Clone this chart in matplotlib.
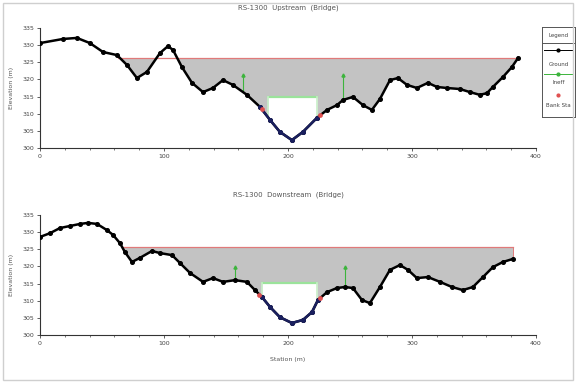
import numpy as np
import matplotlib
matplotlib.use("Agg")
import matplotlib.pyplot as plt
from matplotlib.patches import Rectangle

# upstream section (station m, elevation m)
up_sta = [0, 18.5, 29.8, 40.3, 50.8, 62.1, 70.2, 78.2, 86.3, 96.8, 103.2, 107.3, 114.5,
          122.6, 131.5, 139.5, 147.6, 155.6, 166.9, 177.4, 185.5, 193.5, 203.2, 212.1,
          223.4, 231.5, 239.5, 244.4, 252.4, 260.5, 267.7, 274.2, 282.3, 288.7, 296.0,
          304.0, 312.9, 320.2, 328.2, 338.7, 346.8, 354.8, 360.5, 365.3, 373.4, 380.6, 385.5]
up_elev = [330.6, 331.8, 332.1, 330.6, 328.0, 327.1, 324.2, 320.4, 322.2, 327.7, 329.7, 328.6,
           323.6, 319.0, 316.3, 317.5, 319.8, 318.4, 315.5, 312.0, 308.2, 304.7, 302.3, 304.7,
           308.8, 311.1, 312.5, 314.0, 314.9, 312.5, 311.1, 314.3, 319.8, 320.4, 318.4,
           317.5, 319.0, 317.8, 317.5, 317.2, 316.3, 315.5, 316.0, 317.8, 320.7, 323.6, 326.2]
up_level = 326.2
up_level_sta = [63, 385.5]
up_ineff_sta = [163.7, 244.4]
up_ineff_elev = [321.3, 321.3]
up_open_sta = [183.9, 223.4]
up_open_top = 314.9
up_bank_sta = [179.0, 226.0]

# downstream section
dn_sta = [0, 8.1, 16.1, 24.2, 32.3, 38.7, 46.0, 54.0, 58.9, 64.5, 68.5, 74.2, 80.6, 90.3,
          96.8, 106.5, 112.9, 121.0, 131.5, 139.5, 147.6, 157.3, 166.9, 173.4, 179.0, 185.5,
          193.5, 203.2, 212.1, 219.4, 224.2, 231.5, 239.5, 246.0, 252.4, 259.7, 266.1, 274.2,
          282.3, 290.3, 296.8, 304.0, 312.9, 322.6, 332.3, 341.1, 349.2, 357.3, 365.3, 373.4, 381.5]
dn_elev = [328.6, 329.7, 331.2, 331.8, 332.4, 332.7, 332.4, 330.6, 329.2, 326.8, 324.2, 321.3,
           322.5, 324.5, 323.9, 323.3, 321.0, 318.1, 315.5, 316.6, 315.5, 316.0, 315.5, 313.1,
           311.1, 308.2, 305.2, 303.5, 304.4, 306.7, 310.2, 312.5, 313.7, 314.0, 313.7, 310.2,
           309.3, 314.0, 319.0, 320.4, 319.0, 316.6, 316.9, 315.5, 314.0, 313.1, 314.0, 316.9,
           319.8, 321.3, 322.2]
dn_level = 325.7
dn_level_sta = [66, 381.5]
dn_ineff_sta = [157.3, 246.0]
dn_ineff_elev = [319.8, 319.8]
dn_open_sta = [179.0, 223.4]
dn_open_top = 315.2
dn_bank_sta = [177.0, 226.0]

titles = ["RS-1300  Upstream  (Bridge)", "RS-1300  Downstream  (Bridge)"]
yticks = [300, 305, 310, 315, 320, 325, 330, 335]

fig = plt.figure(figsize=(5.76, 3.83), dpi=100)
fig.patches.append(Rectangle((0.005, 0.008), 0.99, 0.985, transform=fig.transFigure,
                             fill=False, edgecolor="#cfcfcf", linewidth=1.0))

def draw(ax, sta, elev, level, level_sta, ineff_sta, ineff_elev, open_sta, open_top, bank_sta, title):
    sta = np.array(sta)
    elev = np.array(elev)
    xs = np.linspace(level_sta[0], level_sta[1], 400)
    ys = np.interp(xs, sta, elev)
    ax.fill_between(xs, ys, level, where=ys < level, color="#c3c3c3", linewidth=0, zorder=1)
    xo = np.linspace(open_sta[0], open_sta[1], 200)
    yo = np.interp(xo, sta, elev)
    ax.fill_between(xo, yo, open_top, where=yo < open_top, color="white", linewidth=0, zorder=2)
    ax.plot(open_sta, [open_top, open_top], color="#9be39b", lw=1.6, zorder=3)
    for s in open_sta:
        ax.plot([s, s], [np.interp(s, sta, elev), open_top], color="#c8efc8", lw=1.2, zorder=3)
    ax.plot(level_sta, [level, level], color="#e07a7a", lw=0.9, zorder=3)
    ax.plot([level_sta[1], level_sta[1]], [np.interp(level_sta[1], sta, elev), level],
            color="#e07a7a", lw=0.7, zorder=3)
    for s, e in zip(ineff_sta, ineff_elev):
        ax.plot([s, s], [np.interp(s, sta, elev), e], color="#3cb43c", lw=0.8, zorder=4)
        ax.plot([s], [e], marker="^", ms=2.2, color="#3cb43c", zorder=4)
    ax.plot(sta, elev, color="black", lw=1.8, marker="o", ms=2.6, zorder=5)
    mid = (sta > bank_sta[0] - 3) & (sta < bank_sta[1] + 3)
    ax.plot(sta[mid], elev[mid], color="#1a1f5e", lw=1.8, marker="o", ms=2.6, zorder=6)
    ax.plot(bank_sta, np.interp(bank_sta, sta, elev), "o", color="#e05050", ms=2.4, zorder=7)
    ax.set_xlim(0, 400)
    ax.set_ylim(300, 335)
    ax.set_xticks([0, 100, 200, 300, 400])
    ax.set_xticks(np.arange(0, 401, 20), minor=True)
    ax.set_yticks(yticks)
    ax.tick_params(labelsize=4.5, length=2, width=0.6, colors="#444444", pad=2)
    ax.tick_params(which="minor", length=1.5, width=0.5, colors="#444444")
    for side in ["top", "right"]:
        ax.spines[side].set_visible(False)
    for side in ["left", "bottom"]:
        ax.spines[side].set_linewidth(0.8)
        ax.spines[side].set_color("#333333")
    ax.set_title(title, fontsize=5, color="#555555", pad=13)
    ax.set_ylabel("Elevation (m)", fontsize=4.5, color="#555555", labelpad=6)

ax1 = fig.add_axes([0.0694, 0.6136, 0.861, 0.3133])
draw(ax1, up_sta, up_elev, up_level, up_level_sta, up_ineff_sta, up_ineff_elev,
     up_open_sta, up_open_top, up_bank_sta, titles[0])
ax2 = fig.add_axes([0.0694, 0.1253, 0.861, 0.3133])
draw(ax2, dn_sta, dn_elev, dn_level, dn_level_sta, dn_ineff_sta, dn_ineff_elev,
     dn_open_sta, dn_open_top, dn_bank_sta, titles[1])
ax2.set_xlabel("Station (m)", fontsize=4.5, color="#555555", labelpad=8)

# legend box
lg = fig.add_axes([0.941, 0.6945, 0.057, 0.235])
lg.set_xlim(0, 1)
lg.set_ylim(0, 1)
lg.set_xticks([])
lg.set_yticks([])
for s in lg.spines.values():
    s.set_color("#555555")
    s.set_linewidth(0.7)
lg.text(0.5, 0.91, "Legend", ha="center", va="center", fontsize=4, color="#444444")
lg.axhline(0.82, color="#555555", lw=0.7)
lg.plot([0.05, 0.95], [0.74, 0.74], color="black", lw=0.7)
lg.plot([0.5], [0.74], "o", color="black", ms=2)
lg.text(0.5, 0.58, "Ground", ha="center", va="center", fontsize=4, color="#444444")
lg.plot([0.05, 0.95], [0.48, 0.48], color="#3cb43c", lw=0.7)
lg.plot([0.5], [0.48], "o", color="#3cb43c", ms=2)
lg.text(0.5, 0.38, "Ineff", ha="center", va="center", fontsize=4, color="#444444")
lg.plot([0.5], [0.24], "o", color="#e05050", ms=2)
lg.text(0.5, 0.13, "Bank Sta", ha="center", va="center", fontsize=4, color="#444444")

fig.savefig("out.png", dpi=100)
